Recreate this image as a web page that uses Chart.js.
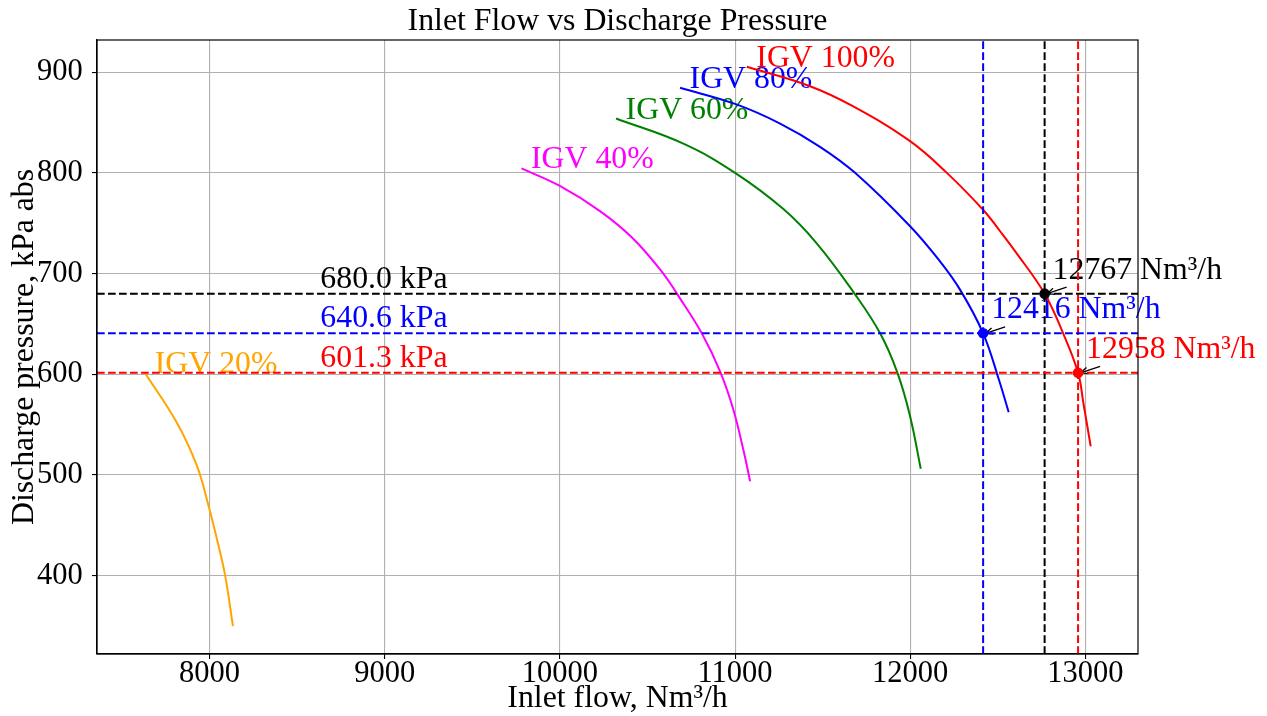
<!DOCTYPE html>
<html>
<head>
<meta charset="utf-8">
<script src="https://cdn.jsdelivr.net/npm/chart.js@4.4.0/dist/chart.umd.min.js"></script>
<style>
  html, body { margin: 0; padding: 0; background: #fff; }
  #wrap { width: 1267px; height: 716px; }
</style>
</head>
<body>
<div id="wrap"><canvas id="chart" width="1267" height="716"></canvas></div>
<script>
// IGV performance curves, flow in Nm3/h, pressure in kPa abs
const igv20Flow = [7633, 7814, 7929, 7995, 8052, 8090, 8134];
const igv20Pressure = [601, 551.7, 508.6, 469, 429.3, 399.3, 349.7];

const igv40Flow = [9781, 10000, 10229, 10416, 10590, 10668, 10810, 10918, 10990, 11047, 11086];
const igv40Pressure = [804.5, 787, 762, 735, 700, 680, 640.6, 601.3, 564.9, 525.2, 493.7];

const igv60Flow = [10321, 10705, 11000, 11276, 11466, 11680, 11828, 11927, 11999, 12060];
const igv60Pressure = [854, 829, 800, 764, 730, 680.5, 640.6, 601.3, 558.3, 506];

const igv80Flow = [10686, 11000, 11257, 11485, 11685, 11999, 12161, 12284, 12416, 12507, 12562];
const igv80Pressure = [884.5, 868.5, 849, 825.9, 800, 747, 714, 684, 640.6, 594, 562.2];

const igv100Flow = [11067, 11428, 11675, 11999, 12209, 12418, 12513, 12595, 12767, 12874, 12958, 12988, 13030];
const igv100Pressure = [905.4, 886.1, 866, 831.5, 800, 762.9, 742, 723, 680, 640, 601.3, 571.6, 528.4];

// operating points
const opFlows = [12767, 12416, 12958];
const opPressures = [680.0, 640.6, 601.3];
const opColors = ['#000000', '#0000ff', '#ff0000'];

const xTicks = [8000, 9000, 10000, 11000, 12000, 13000];
const yTicks = [400, 500, 600, 700, 800, 900];
const xMin = 7358, xMax = 13300;
const yMin = 322, yMax = 932;

const FAMILY = "'Liberation Serif', 'Times New Roman', serif";
const TICK_SIZE = 30.5;
const TEXT_SIZE = 31.8;
const FONT = TEXT_SIZE + 'px ' + FAMILY;
const pLabelFlow = 8633;

const curves = [
  { label: 'IGV 20%', flow: igv20Flow, pressure: igv20Pressure, color: '#ffa500' },
  { label: 'IGV 40%', flow: igv40Flow, pressure: igv40Pressure, color: '#ff00ff' },
  { label: 'IGV 60%', flow: igv60Flow, pressure: igv60Pressure, color: '#008000' },
  { label: 'IGV 80%', flow: igv80Flow, pressure: igv80Pressure, color: '#0000ff' },
  { label: 'IGV 100%', flow: igv100Flow, pressure: igv100Pressure, color: '#ff0000' }
];

const datasets = [];
curves.forEach(c => {
  datasets.push({
    label: c.label,
    data: c.flow.map((f, i) => ({ x: f, y: c.pressure[i] })),
    showLine: true,
    borderColor: c.color,
    borderWidth: 2,
    pointRadius: 0,
    tension: 0.4,
    order: 3
  });
});
opPressures.forEach((p, i) => {
  datasets.push({
    data: [{ x: xMin, y: p }, { x: xMax, y: p }],
    showLine: true, borderColor: opColors[i], borderWidth: 2,
    borderDash: [7.7, 3.3], pointRadius: 0, order: 2
  });
});
opFlows.forEach((f, i) => {
  datasets.push({
    data: [{ x: f, y: yMin }, { x: f, y: yMax }],
    showLine: true, borderColor: opColors[i], borderWidth: 2,
    borderDash: [7.7, 3.3], pointRadius: 0, order: 2
  });
});
datasets.push({
  data: opFlows.map((f, i) => ({ x: f, y: opPressures[i] })),
  showLine: false,
  pointRadius: 5.3,
  pointBackgroundColor: opColors,
  pointBorderColor: opColors,
  pointBorderWidth: 0,
  order: 1
});

function arrow(ctx, x1, y1, x2, y2) {
  const ang = Math.atan2(y2 - y1, x2 - x1);
  const h = 8;
  ctx.beginPath();
  ctx.moveTo(x1, y1);
  ctx.lineTo(x2, y2);
  ctx.moveTo(x2 - h * Math.cos(ang - 0.42), y2 - h * Math.sin(ang - 0.42));
  ctx.lineTo(x2, y2);
  ctx.lineTo(x2 - h * Math.cos(ang + 0.42), y2 - h * Math.sin(ang + 0.42));
  ctx.stroke();
}

const overlay = {
  id: 'overlay',
  beforeDatasetsDraw(chart) {
    const { ctx, scales: { x, y } } = chart;
    ctx.save();
    ctx.font = FONT;
    ctx.textAlign = 'left';
    ctx.textBaseline = 'alphabetic';
    // curve names at the start of each curve
    curves.forEach(c => {
      ctx.fillStyle = c.color;
      ctx.fillText(c.label, x.getPixelForValue(c.flow[0]) + 9.5, y.getPixelForValue(c.pressure[0]));
    });
    // pressure labels on the horizontal lines
    opPressures.forEach((p, i) => {
      ctx.fillStyle = opColors[i];
      ctx.fillText(p.toFixed(1) + ' kPa', x.getPixelForValue(pLabelFlow), y.getPixelForValue(p) - 6);
    });
    // flow labels with arrows
    ctx.strokeStyle = '#000';
    ctx.lineWidth = 1.3;
    opFlows.forEach((f, i) => {
      const px = x.getPixelForValue(f);
      const py = y.getPixelForValue(opPressures[i]);
      ctx.fillStyle = opColors[i];
      ctx.fillText(Math.round(f) + ' Nm³/h', px + 8, py - 15);
      arrow(ctx, px + 22, py - 6.5, px + 2.5, py);
    });
    ctx.restore();
  },
  afterDatasetsDraw(chart) {
    const { ctx, chartArea: a } = chart;
    ctx.save();
    ctx.strokeStyle = '#000';
    ctx.lineWidth = 1.2;
    ctx.strokeRect(a.left, a.top, a.right - a.left, a.bottom - a.top);
    // chart title, centred over the plot area
    ctx.font = FONT;
    ctx.fillStyle = '#000';
    ctx.textAlign = 'center';
    ctx.textBaseline = 'alphabetic';
    ctx.fillText('Inlet Flow vs Discharge Pressure', (a.left + a.right) / 2, 30);
    ctx.restore();
  }
};

const tickFont = { family: FAMILY, size: TICK_SIZE, lineHeight: 1 };
const titleFont = { family: FAMILY, size: TEXT_SIZE, lineHeight: 1.2 };

new Chart(document.getElementById('chart').getContext('2d'), {
  type: 'scatter',
  data: { datasets: datasets },
  options: {
    responsive: false,
    animation: false,
    layout: { padding: { left: 0, right: 129, top: 40, bottom: 0 } },
    plugins: {
      legend: { display: false },
      tooltip: { enabled: false },
      title: { display: false }
    },
    scales: {
      x: {
        type: 'linear',
        min: xMin,
        max: xMax,
        afterBuildTicks: s => { s.ticks = xTicks.map(v => ({ value: v })); },
        afterFit: s => { s.height = 62; },
        grid: { color: '#b0b0b0', lineWidth: 1.1, tickColor: '#000', tickLength: 5, tickWidth: 1.1 },
        border: { color: '#000', width: 1.2 },
        ticks: { color: '#000', font: tickFont, padding: -0.5, maxRotation: 0, autoSkip: false, callback: v => String(v) },
        title: { display: true, text: 'Inlet flow, Nm³/h', color: '#000', font: titleFont, padding: { top: 0, bottom: -1.5 } }
      },
      y: {
        type: 'linear',
        min: yMin,
        max: yMax,
        afterBuildTicks: s => { s.ticks = yTicks.map(v => ({ value: v })); },
        afterFit: s => { s.width = 97; },
        grid: { color: '#b0b0b0', lineWidth: 1.1, tickColor: '#000', tickLength: 5, tickWidth: 1.1 },
        border: { color: '#000', width: 1.2 },
        ticks: { color: '#000', font: tickFont, padding: 9.3, autoSkip: false, callback: v => String(v) },
        title: { display: true, text: 'Discharge pressure, kPa abs', color: '#000', font: titleFont, padding: { top: 5.6, bottom: 0 } }
      }
    }
  },
  plugins: [overlay]
});
</script>
</body>
</html>
